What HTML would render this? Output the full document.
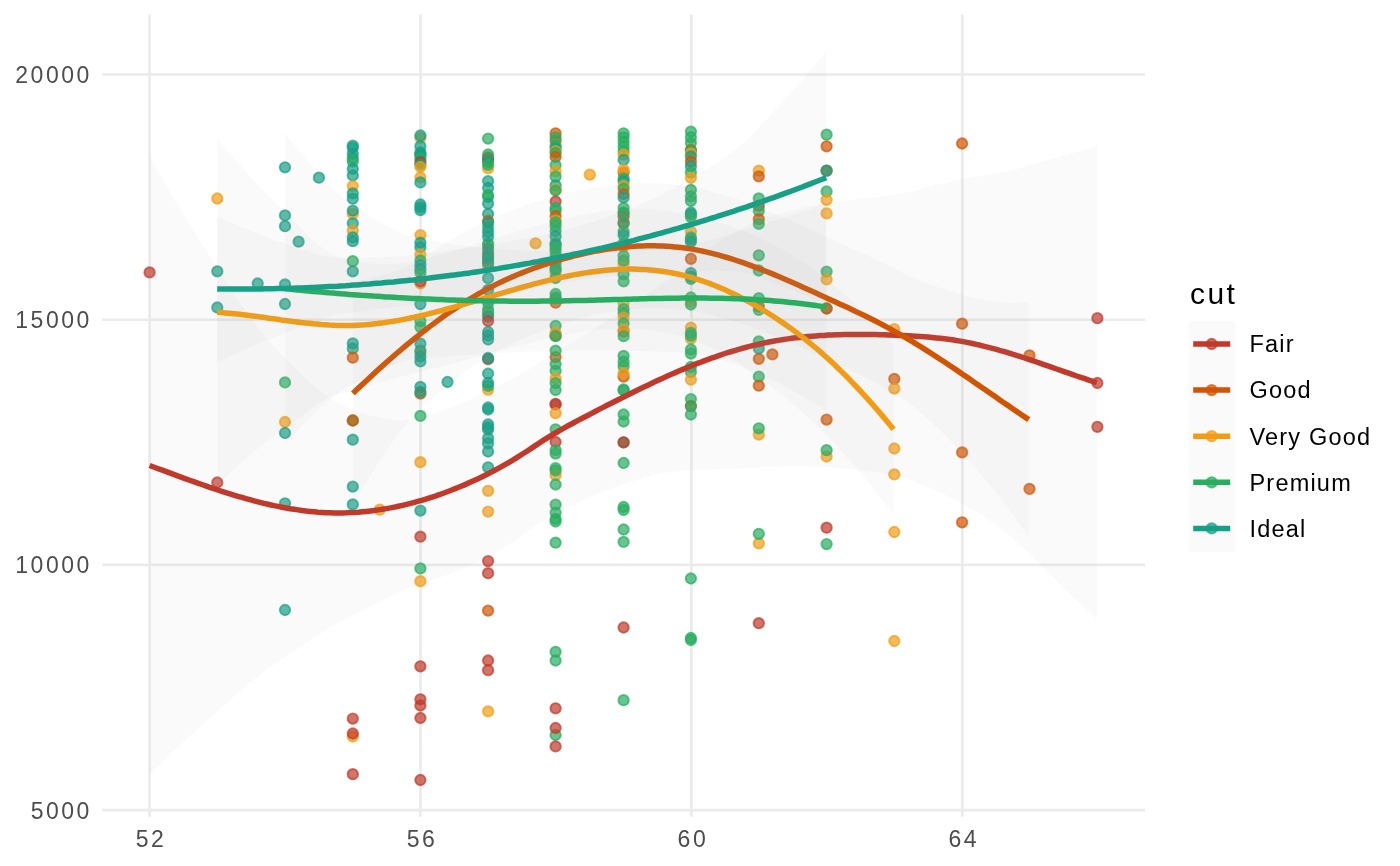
<!DOCTYPE html><html><head><meta charset="utf-8"><style>html,body{margin:0;padding:0;background:#fff;width:1400px;height:866px;overflow:hidden;position:relative}</style></head><body><svg width="1400" height="866" viewBox="0 0 1400 866" style="position:absolute;left:0;top:0"><rect width="1400" height="866" fill="#ffffff"/><g stroke="#EBEBEB" stroke-width="2.7" fill="none"><line x1="102.2" x2="1145.1" y1="810.20" y2="810.20"/><line x1="102.2" x2="1145.1" y1="564.97" y2="564.97"/><line x1="102.2" x2="1145.1" y1="319.73" y2="319.73"/><line x1="102.2" x2="1145.1" y1="74.50" y2="74.50"/><line x1="149.60" x2="149.60" y1="14.5" y2="816.8"/><line x1="420.50" x2="420.50" y1="14.5" y2="816.8"/><line x1="691.40" x2="691.40" y1="14.5" y2="816.8"/><line x1="962.30" x2="962.30" y1="14.5" y2="816.8"/></g><g fill-opacity="0.7" stroke-opacity="0.7" stroke-width="1.9"><circle cx="149.6" cy="272.4" r="5.2" fill="#C0392B" stroke="#C0392B"/><circle cx="217.3" cy="198.5" r="5.2" fill="#F39C12" stroke="#F39C12"/><circle cx="217.3" cy="271.3" r="5.2" fill="#16A085" stroke="#16A085"/><circle cx="217.3" cy="307.5" r="5.2" fill="#16A085" stroke="#16A085"/><circle cx="217.3" cy="482.5" r="5.2" fill="#C0392B" stroke="#C0392B"/><circle cx="257.7" cy="283.5" r="5.2" fill="#16A085" stroke="#16A085"/><circle cx="285.0" cy="167.3" r="5.2" fill="#16A085" stroke="#16A085"/><circle cx="285.0" cy="215.4" r="5.2" fill="#16A085" stroke="#16A085"/><circle cx="285.0" cy="226.2" r="5.2" fill="#16A085" stroke="#16A085"/><circle cx="285.0" cy="284.4" r="5.2" fill="#16A085" stroke="#16A085"/><circle cx="285.0" cy="304.0" r="5.2" fill="#16A085" stroke="#16A085"/><circle cx="285.0" cy="382.4" r="5.2" fill="#27AE60" stroke="#27AE60"/><circle cx="285.0" cy="422.0" r="5.2" fill="#F39C12" stroke="#F39C12"/><circle cx="285.0" cy="433.0" r="5.2" fill="#16A085" stroke="#16A085"/><circle cx="285.0" cy="503.3" r="5.2" fill="#16A085" stroke="#16A085"/><circle cx="285.0" cy="610.0" r="5.2" fill="#16A085" stroke="#16A085"/><circle cx="298.6" cy="241.7" r="5.2" fill="#16A085" stroke="#16A085"/><circle cx="318.9" cy="177.7" r="5.2" fill="#16A085" stroke="#16A085"/><circle cx="352.8" cy="145.6" r="5.2" fill="#16A085" stroke="#16A085"/><circle cx="352.8" cy="147.6" r="5.2" fill="#16A085" stroke="#16A085"/><circle cx="352.8" cy="153.6" r="5.2" fill="#16A085" stroke="#16A085"/><circle cx="352.8" cy="158.2" r="5.2" fill="#16A085" stroke="#16A085"/><circle cx="352.8" cy="161.6" r="5.2" fill="#27AE60" stroke="#27AE60"/><circle cx="352.8" cy="168.9" r="5.2" fill="#16A085" stroke="#16A085"/><circle cx="352.8" cy="175.5" r="5.2" fill="#16A085" stroke="#16A085"/><circle cx="352.8" cy="186.1" r="5.2" fill="#F39C12" stroke="#F39C12"/><circle cx="352.8" cy="193.4" r="5.2" fill="#16A085" stroke="#16A085"/><circle cx="352.8" cy="198.7" r="5.2" fill="#16A085" stroke="#16A085"/><circle cx="352.8" cy="214.0" r="5.2" fill="#F39C12" stroke="#F39C12"/><circle cx="352.8" cy="210.7" r="5.2" fill="#16A085" stroke="#16A085"/><circle cx="352.8" cy="223.3" r="5.2" fill="#16A085" stroke="#16A085"/><circle cx="352.8" cy="230.6" r="5.2" fill="#F39C12" stroke="#F39C12"/><circle cx="352.8" cy="237.3" r="5.2" fill="#16A085" stroke="#16A085"/><circle cx="352.8" cy="241.2" r="5.2" fill="#16A085" stroke="#16A085"/><circle cx="352.8" cy="261.2" r="5.2" fill="#27AE60" stroke="#27AE60"/><circle cx="352.8" cy="271.3" r="5.2" fill="#16A085" stroke="#16A085"/><circle cx="352.8" cy="343.4" r="5.2" fill="#16A085" stroke="#16A085"/><circle cx="352.8" cy="348.5" r="5.2" fill="#16A085" stroke="#16A085"/><circle cx="352.8" cy="357.7" r="5.2" fill="#D35400" stroke="#D35400"/><circle cx="352.8" cy="420.5" r="5.2" fill="#27AE60" stroke="#27AE60"/><circle cx="352.8" cy="420.5" r="5.2" fill="#D35400" stroke="#D35400"/><circle cx="352.8" cy="439.7" r="5.2" fill="#16A085" stroke="#16A085"/><circle cx="352.8" cy="486.6" r="5.2" fill="#16A085" stroke="#16A085"/><circle cx="352.8" cy="504.4" r="5.2" fill="#16A085" stroke="#16A085"/><circle cx="379.7" cy="509.7" r="5.2" fill="#F39C12" stroke="#F39C12"/><circle cx="352.8" cy="718.6" r="5.2" fill="#C0392B" stroke="#C0392B"/><circle cx="352.8" cy="736.5" r="5.2" fill="#F39C12" stroke="#F39C12"/><circle cx="352.8" cy="733.5" r="5.2" fill="#C0392B" stroke="#C0392B"/><circle cx="352.8" cy="774.2" r="5.2" fill="#C0392B" stroke="#C0392B"/><circle cx="420.4" cy="137.9" r="5.2" fill="#F39C12" stroke="#F39C12"/><circle cx="420.4" cy="135.5" r="5.2" fill="#16A085" stroke="#16A085"/><circle cx="420.4" cy="146.2" r="5.2" fill="#16A085" stroke="#16A085"/><circle cx="420.4" cy="152.5" r="5.2" fill="#16A085" stroke="#16A085"/><circle cx="420.4" cy="154.1" r="5.2" fill="#16A085" stroke="#16A085"/><circle cx="420.4" cy="155.7" r="5.2" fill="#16A085" stroke="#16A085"/><circle cx="420.4" cy="158.9" r="5.2" fill="#27AE60" stroke="#27AE60"/><circle cx="420.4" cy="162.2" r="5.2" fill="#C0392B" stroke="#C0392B"/><circle cx="420.4" cy="164.6" r="5.2" fill="#16A085" stroke="#16A085"/><circle cx="420.4" cy="167.0" r="5.2" fill="#F39C12" stroke="#F39C12"/><circle cx="420.4" cy="177.5" r="5.2" fill="#F39C12" stroke="#F39C12"/><circle cx="420.4" cy="182.4" r="5.2" fill="#16A085" stroke="#16A085"/><circle cx="420.4" cy="204.5" r="5.2" fill="#16A085" stroke="#16A085"/><circle cx="420.4" cy="207.3" r="5.2" fill="#16A085" stroke="#16A085"/><circle cx="420.4" cy="210.2" r="5.2" fill="#16A085" stroke="#16A085"/><circle cx="420.4" cy="235.1" r="5.2" fill="#F39C12" stroke="#F39C12"/><circle cx="420.4" cy="242.6" r="5.2" fill="#16A085" stroke="#16A085"/><circle cx="420.4" cy="247.2" r="5.2" fill="#16A085" stroke="#16A085"/><circle cx="420.4" cy="254.7" r="5.2" fill="#F39C12" stroke="#F39C12"/><circle cx="420.4" cy="260.5" r="5.2" fill="#27AE60" stroke="#27AE60"/><circle cx="420.4" cy="265.1" r="5.2" fill="#16A085" stroke="#16A085"/><circle cx="420.4" cy="269.2" r="5.2" fill="#16A085" stroke="#16A085"/><circle cx="420.4" cy="272.7" r="5.2" fill="#27AE60" stroke="#27AE60"/><circle cx="420.4" cy="283.5" r="5.2" fill="#F39C12" stroke="#F39C12"/><circle cx="420.4" cy="281.5" r="5.2" fill="#C0392B" stroke="#C0392B"/><circle cx="420.4" cy="304.1" r="5.2" fill="#16A085" stroke="#16A085"/><circle cx="420.4" cy="321.2" r="5.2" fill="#27AE60" stroke="#27AE60"/><circle cx="420.4" cy="327.1" r="5.2" fill="#27AE60" stroke="#27AE60"/><circle cx="420.4" cy="343.7" r="5.2" fill="#16A085" stroke="#16A085"/><circle cx="420.4" cy="352.5" r="5.2" fill="#F39C12" stroke="#F39C12"/><circle cx="420.4" cy="350.6" r="5.2" fill="#16A085" stroke="#16A085"/><circle cx="420.4" cy="356.5" r="5.2" fill="#16A085" stroke="#16A085"/><circle cx="420.4" cy="361.4" r="5.2" fill="#16A085" stroke="#16A085"/><circle cx="420.4" cy="386.9" r="5.2" fill="#16A085" stroke="#16A085"/><circle cx="420.4" cy="393.7" r="5.2" fill="#D35400" stroke="#D35400"/><circle cx="420.4" cy="391.8" r="5.2" fill="#16A085" stroke="#16A085"/><circle cx="420.4" cy="415.9" r="5.2" fill="#27AE60" stroke="#27AE60"/><circle cx="447.5" cy="382.0" r="5.2" fill="#16A085" stroke="#16A085"/><circle cx="420.4" cy="462.2" r="5.2" fill="#F39C12" stroke="#F39C12"/><circle cx="420.4" cy="510.6" r="5.2" fill="#16A085" stroke="#16A085"/><circle cx="420.4" cy="536.7" r="5.2" fill="#C0392B" stroke="#C0392B"/><circle cx="420.4" cy="568.4" r="5.2" fill="#27AE60" stroke="#27AE60"/><circle cx="420.4" cy="581.2" r="5.2" fill="#F39C12" stroke="#F39C12"/><circle cx="420.4" cy="666.3" r="5.2" fill="#C0392B" stroke="#C0392B"/><circle cx="420.4" cy="699.3" r="5.2" fill="#C0392B" stroke="#C0392B"/><circle cx="420.4" cy="705.5" r="5.2" fill="#C0392B" stroke="#C0392B"/><circle cx="420.4" cy="718.0" r="5.2" fill="#C0392B" stroke="#C0392B"/><circle cx="420.4" cy="780.0" r="5.2" fill="#C0392B" stroke="#C0392B"/><circle cx="488.1" cy="138.6" r="5.2" fill="#27AE60" stroke="#27AE60"/><circle cx="488.1" cy="157.4" r="5.2" fill="#C0392B" stroke="#C0392B"/><circle cx="488.1" cy="159.5" r="5.2" fill="#C0392B" stroke="#C0392B"/><circle cx="488.1" cy="154.5" r="5.2" fill="#27AE60" stroke="#27AE60"/><circle cx="488.1" cy="168.4" r="5.2" fill="#F39C12" stroke="#F39C12"/><circle cx="488.1" cy="162.0" r="5.2" fill="#16A085" stroke="#16A085"/><circle cx="488.1" cy="164.9" r="5.2" fill="#27AE60" stroke="#27AE60"/><circle cx="488.1" cy="181.1" r="5.2" fill="#16A085" stroke="#16A085"/><circle cx="488.1" cy="188.0" r="5.2" fill="#16A085" stroke="#16A085"/><circle cx="488.1" cy="195.0" r="5.2" fill="#27AE60" stroke="#27AE60"/><circle cx="488.1" cy="197.0" r="5.2" fill="#27AE60" stroke="#27AE60"/><circle cx="488.1" cy="203.6" r="5.2" fill="#16A085" stroke="#16A085"/><circle cx="488.1" cy="214.0" r="5.2" fill="#16A085" stroke="#16A085"/><circle cx="488.1" cy="221.0" r="5.2" fill="#D35400" stroke="#D35400"/><circle cx="488.1" cy="245.3" r="5.2" fill="#F39C12" stroke="#F39C12"/><circle cx="488.1" cy="252.8" r="5.2" fill="#D35400" stroke="#D35400"/><circle cx="488.1" cy="260.9" r="5.2" fill="#D35400" stroke="#D35400"/><circle cx="488.1" cy="265.5" r="5.2" fill="#F39C12" stroke="#F39C12"/><circle cx="488.1" cy="227.3" r="5.2" fill="#27AE60" stroke="#27AE60"/><circle cx="488.1" cy="243.5" r="5.2" fill="#27AE60" stroke="#27AE60"/><circle cx="488.1" cy="258.6" r="5.2" fill="#27AE60" stroke="#27AE60"/><circle cx="488.1" cy="222.7" r="5.2" fill="#16A085" stroke="#16A085"/><circle cx="488.1" cy="232.0" r="5.2" fill="#16A085" stroke="#16A085"/><circle cx="488.1" cy="236.6" r="5.2" fill="#16A085" stroke="#16A085"/><circle cx="488.1" cy="248.7" r="5.2" fill="#16A085" stroke="#16A085"/><circle cx="488.1" cy="256.2" r="5.2" fill="#16A085" stroke="#16A085"/><circle cx="488.1" cy="263.2" r="5.2" fill="#16A085" stroke="#16A085"/><circle cx="488.1" cy="278.2" r="5.2" fill="#16A085" stroke="#16A085"/><circle cx="488.1" cy="289.8" r="5.2" fill="#16A085" stroke="#16A085"/><circle cx="488.1" cy="303.1" r="5.2" fill="#16A085" stroke="#16A085"/><circle cx="488.1" cy="309.4" r="5.2" fill="#27AE60" stroke="#27AE60"/><circle cx="488.1" cy="315.2" r="5.2" fill="#F39C12" stroke="#F39C12"/><circle cx="488.1" cy="312.3" r="5.2" fill="#27AE60" stroke="#27AE60"/><circle cx="488.1" cy="316.4" r="5.2" fill="#16A085" stroke="#16A085"/><circle cx="488.1" cy="321.0" r="5.2" fill="#C0392B" stroke="#C0392B"/><circle cx="488.1" cy="332.0" r="5.2" fill="#16A085" stroke="#16A085"/><circle cx="488.1" cy="335.5" r="5.2" fill="#16A085" stroke="#16A085"/><circle cx="488.1" cy="339.5" r="5.2" fill="#16A085" stroke="#16A085"/><circle cx="488.1" cy="359.2" r="5.2" fill="#C0392B" stroke="#C0392B"/><circle cx="488.1" cy="358.0" r="5.2" fill="#16A085" stroke="#16A085"/><circle cx="488.1" cy="373.6" r="5.2" fill="#16A085" stroke="#16A085"/><circle cx="488.1" cy="389.7" r="5.2" fill="#F39C12" stroke="#F39C12"/><circle cx="488.1" cy="385.8" r="5.2" fill="#27AE60" stroke="#27AE60"/><circle cx="488.1" cy="382.9" r="5.2" fill="#16A085" stroke="#16A085"/><circle cx="488.1" cy="407.5" r="5.2" fill="#16A085" stroke="#16A085"/><circle cx="488.1" cy="409.5" r="5.2" fill="#16A085" stroke="#16A085"/><circle cx="488.1" cy="424.3" r="5.2" fill="#16A085" stroke="#16A085"/><circle cx="488.1" cy="427.2" r="5.2" fill="#16A085" stroke="#16A085"/><circle cx="488.1" cy="429.5" r="5.2" fill="#16A085" stroke="#16A085"/><circle cx="488.1" cy="438.2" r="5.2" fill="#16A085" stroke="#16A085"/><circle cx="488.1" cy="443.4" r="5.2" fill="#16A085" stroke="#16A085"/><circle cx="488.1" cy="451.5" r="5.2" fill="#16A085" stroke="#16A085"/><circle cx="488.1" cy="467.3" r="5.2" fill="#16A085" stroke="#16A085"/><circle cx="488.1" cy="490.8" r="5.2" fill="#F39C12" stroke="#F39C12"/><circle cx="488.1" cy="511.6" r="5.2" fill="#F39C12" stroke="#F39C12"/><circle cx="488.1" cy="561.1" r="5.2" fill="#C0392B" stroke="#C0392B"/><circle cx="488.1" cy="573.2" r="5.2" fill="#C0392B" stroke="#C0392B"/><circle cx="488.1" cy="610.6" r="5.2" fill="#D35400" stroke="#D35400"/><circle cx="488.1" cy="660.5" r="5.2" fill="#C0392B" stroke="#C0392B"/><circle cx="488.1" cy="670.2" r="5.2" fill="#C0392B" stroke="#C0392B"/><circle cx="488.1" cy="711.4" r="5.2" fill="#F39C12" stroke="#F39C12"/><circle cx="535.6" cy="243.3" r="5.2" fill="#F39C12" stroke="#F39C12"/><circle cx="589.8" cy="174.7" r="5.2" fill="#F39C12" stroke="#F39C12"/><circle cx="555.6" cy="133.3" r="5.2" fill="#D35400" stroke="#D35400"/><circle cx="555.6" cy="140.8" r="5.2" fill="#D35400" stroke="#D35400"/><circle cx="555.6" cy="137.3" r="5.2" fill="#27AE60" stroke="#27AE60"/><circle cx="555.6" cy="146.0" r="5.2" fill="#27AE60" stroke="#27AE60"/><circle cx="555.6" cy="148.3" r="5.2" fill="#16A085" stroke="#16A085"/><circle cx="555.6" cy="151.2" r="5.2" fill="#F39C12" stroke="#F39C12"/><circle cx="555.6" cy="152.9" r="5.2" fill="#27AE60" stroke="#27AE60"/><circle cx="555.6" cy="157.0" r="5.2" fill="#D35400" stroke="#D35400"/><circle cx="555.6" cy="165.1" r="5.2" fill="#27AE60" stroke="#27AE60"/><circle cx="555.6" cy="171.4" r="5.2" fill="#F39C12" stroke="#F39C12"/><circle cx="555.6" cy="176.6" r="5.2" fill="#27AE60" stroke="#27AE60"/><circle cx="555.6" cy="185.3" r="5.2" fill="#16A085" stroke="#16A085"/><circle cx="555.6" cy="189.4" r="5.2" fill="#F39C12" stroke="#F39C12"/><circle cx="555.6" cy="190.5" r="5.2" fill="#27AE60" stroke="#27AE60"/><circle cx="555.6" cy="201.5" r="5.2" fill="#C0392B" stroke="#C0392B"/><circle cx="555.6" cy="207.9" r="5.2" fill="#27AE60" stroke="#27AE60"/><circle cx="555.6" cy="210.8" r="5.2" fill="#27AE60" stroke="#27AE60"/><circle cx="555.6" cy="216.0" r="5.2" fill="#D35400" stroke="#D35400"/><circle cx="555.6" cy="220.6" r="5.2" fill="#F39C12" stroke="#F39C12"/><circle cx="555.6" cy="222.3" r="5.2" fill="#27AE60" stroke="#27AE60"/><circle cx="555.6" cy="226.0" r="5.2" fill="#27AE60" stroke="#27AE60"/><circle cx="555.6" cy="231.0" r="5.2" fill="#27AE60" stroke="#27AE60"/><circle cx="555.6" cy="236.2" r="5.2" fill="#16A085" stroke="#16A085"/><circle cx="555.6" cy="243.2" r="5.2" fill="#27AE60" stroke="#27AE60"/><circle cx="555.6" cy="244.9" r="5.2" fill="#16A085" stroke="#16A085"/><circle cx="555.6" cy="248.0" r="5.2" fill="#27AE60" stroke="#27AE60"/><circle cx="555.6" cy="251.2" r="5.2" fill="#27AE60" stroke="#27AE60"/><circle cx="555.6" cy="256.0" r="5.2" fill="#27AE60" stroke="#27AE60"/><circle cx="555.6" cy="264.0" r="5.2" fill="#27AE60" stroke="#27AE60"/><circle cx="555.6" cy="260.5" r="5.2" fill="#27AE60" stroke="#27AE60"/><circle cx="555.6" cy="273.2" r="5.2" fill="#F39C12" stroke="#F39C12"/><circle cx="555.6" cy="269.7" r="5.2" fill="#16A085" stroke="#16A085"/><circle cx="555.6" cy="268.6" r="5.2" fill="#27AE60" stroke="#27AE60"/><circle cx="555.6" cy="278.0" r="5.2" fill="#27AE60" stroke="#27AE60"/><circle cx="555.6" cy="294.0" r="5.2" fill="#27AE60" stroke="#27AE60"/><circle cx="555.6" cy="297.5" r="5.2" fill="#27AE60" stroke="#27AE60"/><circle cx="555.6" cy="302.7" r="5.2" fill="#D35400" stroke="#D35400"/><circle cx="555.6" cy="298.7" r="5.2" fill="#27AE60" stroke="#27AE60"/><circle cx="555.6" cy="325.8" r="5.2" fill="#27AE60" stroke="#27AE60"/><circle cx="555.6" cy="335.7" r="5.2" fill="#D35400" stroke="#D35400"/><circle cx="555.6" cy="332.8" r="5.2" fill="#F39C12" stroke="#F39C12"/><circle cx="555.6" cy="336.2" r="5.2" fill="#27AE60" stroke="#27AE60"/><circle cx="555.6" cy="357.1" r="5.2" fill="#D35400" stroke="#D35400"/><circle cx="555.6" cy="350.7" r="5.2" fill="#27AE60" stroke="#27AE60"/><circle cx="555.6" cy="364.0" r="5.2" fill="#27AE60" stroke="#27AE60"/><circle cx="555.6" cy="370.9" r="5.2" fill="#27AE60" stroke="#27AE60"/><circle cx="555.6" cy="378.4" r="5.2" fill="#F39C12" stroke="#F39C12"/><circle cx="555.6" cy="383.1" r="5.2" fill="#27AE60" stroke="#27AE60"/><circle cx="555.6" cy="390.0" r="5.2" fill="#27AE60" stroke="#27AE60"/><circle cx="555.6" cy="403.9" r="5.2" fill="#C0392B" stroke="#C0392B"/><circle cx="555.6" cy="404.5" r="5.2" fill="#C0392B" stroke="#C0392B"/><circle cx="555.6" cy="413.2" r="5.2" fill="#F39C12" stroke="#F39C12"/><circle cx="555.6" cy="429.3" r="5.2" fill="#27AE60" stroke="#27AE60"/><circle cx="555.6" cy="442.0" r="5.2" fill="#C0392B" stroke="#C0392B"/><circle cx="555.6" cy="450.1" r="5.2" fill="#27AE60" stroke="#27AE60"/><circle cx="555.6" cy="453.6" r="5.2" fill="#27AE60" stroke="#27AE60"/><circle cx="555.6" cy="468.1" r="5.2" fill="#27AE60" stroke="#27AE60"/><circle cx="555.6" cy="475.2" r="5.2" fill="#F39C12" stroke="#F39C12"/><circle cx="555.6" cy="470.5" r="5.2" fill="#27AE60" stroke="#27AE60"/><circle cx="555.6" cy="484.5" r="5.2" fill="#27AE60" stroke="#27AE60"/><circle cx="555.6" cy="504.6" r="5.2" fill="#27AE60" stroke="#27AE60"/><circle cx="555.6" cy="512.6" r="5.2" fill="#27AE60" stroke="#27AE60"/><circle cx="555.6" cy="519.0" r="5.2" fill="#27AE60" stroke="#27AE60"/><circle cx="555.6" cy="521.5" r="5.2" fill="#27AE60" stroke="#27AE60"/><circle cx="555.6" cy="542.7" r="5.2" fill="#27AE60" stroke="#27AE60"/><circle cx="555.6" cy="651.8" r="5.2" fill="#27AE60" stroke="#27AE60"/><circle cx="555.6" cy="660.5" r="5.2" fill="#27AE60" stroke="#27AE60"/><circle cx="555.6" cy="708.3" r="5.2" fill="#C0392B" stroke="#C0392B"/><circle cx="555.6" cy="735.0" r="5.2" fill="#27AE60" stroke="#27AE60"/><circle cx="555.6" cy="728.0" r="5.2" fill="#C0392B" stroke="#C0392B"/><circle cx="555.6" cy="746.4" r="5.2" fill="#C0392B" stroke="#C0392B"/><circle cx="623.6" cy="133.3" r="5.2" fill="#27AE60" stroke="#27AE60"/><circle cx="623.6" cy="137.3" r="5.2" fill="#27AE60" stroke="#27AE60"/><circle cx="623.6" cy="142.0" r="5.2" fill="#27AE60" stroke="#27AE60"/><circle cx="623.6" cy="146.6" r="5.2" fill="#27AE60" stroke="#27AE60"/><circle cx="623.6" cy="151.2" r="5.2" fill="#27AE60" stroke="#27AE60"/><circle cx="623.6" cy="154.7" r="5.2" fill="#F39C12" stroke="#F39C12"/><circle cx="623.6" cy="159.9" r="5.2" fill="#16A085" stroke="#16A085"/><circle cx="623.6" cy="172.6" r="5.2" fill="#D35400" stroke="#D35400"/><circle cx="623.6" cy="169.7" r="5.2" fill="#F39C12" stroke="#F39C12"/><circle cx="623.6" cy="178.4" r="5.2" fill="#27AE60" stroke="#27AE60"/><circle cx="623.6" cy="181.3" r="5.2" fill="#16A085" stroke="#16A085"/><circle cx="623.6" cy="185.9" r="5.2" fill="#F39C12" stroke="#F39C12"/><circle cx="623.6" cy="188.8" r="5.2" fill="#27AE60" stroke="#27AE60"/><circle cx="623.6" cy="194.0" r="5.2" fill="#D35400" stroke="#D35400"/><circle cx="623.6" cy="197.5" r="5.2" fill="#16A085" stroke="#16A085"/><circle cx="623.6" cy="207.9" r="5.2" fill="#27AE60" stroke="#27AE60"/><circle cx="623.6" cy="212.5" r="5.2" fill="#27AE60" stroke="#27AE60"/><circle cx="623.6" cy="216.6" r="5.2" fill="#C0392B" stroke="#C0392B"/><circle cx="623.6" cy="213.1" r="5.2" fill="#27AE60" stroke="#27AE60"/><circle cx="623.6" cy="223.5" r="5.2" fill="#C0392B" stroke="#C0392B"/><circle cx="623.6" cy="222.3" r="5.2" fill="#27AE60" stroke="#27AE60"/><circle cx="623.6" cy="231.6" r="5.2" fill="#27AE60" stroke="#27AE60"/><circle cx="623.6" cy="235.1" r="5.2" fill="#16A085" stroke="#16A085"/><circle cx="623.6" cy="243.2" r="5.2" fill="#27AE60" stroke="#27AE60"/><circle cx="623.6" cy="246.6" r="5.2" fill="#F39C12" stroke="#F39C12"/><circle cx="623.6" cy="255.9" r="5.2" fill="#27AE60" stroke="#27AE60"/><circle cx="623.6" cy="264.0" r="5.2" fill="#F39C12" stroke="#F39C12"/><circle cx="623.6" cy="260.5" r="5.2" fill="#27AE60" stroke="#27AE60"/><circle cx="623.6" cy="274.4" r="5.2" fill="#27AE60" stroke="#27AE60"/><circle cx="623.6" cy="281.3" r="5.2" fill="#27AE60" stroke="#27AE60"/><circle cx="623.6" cy="303.3" r="5.2" fill="#F39C12" stroke="#F39C12"/><circle cx="623.6" cy="309.1" r="5.2" fill="#27AE60" stroke="#27AE60"/><circle cx="623.6" cy="313.1" r="5.2" fill="#27AE60" stroke="#27AE60"/><circle cx="623.6" cy="317.7" r="5.2" fill="#F39C12" stroke="#F39C12"/><circle cx="623.6" cy="323.5" r="5.2" fill="#27AE60" stroke="#27AE60"/><circle cx="623.6" cy="331.6" r="5.2" fill="#D35400" stroke="#D35400"/><circle cx="623.6" cy="329.9" r="5.2" fill="#F39C12" stroke="#F39C12"/><circle cx="623.6" cy="336.2" r="5.2" fill="#27AE60" stroke="#27AE60"/><circle cx="623.6" cy="355.9" r="5.2" fill="#27AE60" stroke="#27AE60"/><circle cx="623.6" cy="361.7" r="5.2" fill="#27AE60" stroke="#27AE60"/><circle cx="623.6" cy="366.3" r="5.2" fill="#27AE60" stroke="#27AE60"/><circle cx="623.6" cy="376.7" r="5.2" fill="#D35400" stroke="#D35400"/><circle cx="623.6" cy="373.2" r="5.2" fill="#F39C12" stroke="#F39C12"/><circle cx="623.6" cy="389.4" r="5.2" fill="#27AE60" stroke="#27AE60"/><circle cx="623.6" cy="390.4" r="5.2" fill="#27AE60" stroke="#27AE60"/><circle cx="623.6" cy="414.5" r="5.2" fill="#27AE60" stroke="#27AE60"/><circle cx="623.6" cy="421.5" r="5.2" fill="#27AE60" stroke="#27AE60"/><circle cx="623.6" cy="442.3" r="5.2" fill="#27AE60" stroke="#27AE60"/><circle cx="623.6" cy="442.3" r="5.2" fill="#C0392B" stroke="#C0392B"/><circle cx="623.6" cy="463.0" r="5.2" fill="#27AE60" stroke="#27AE60"/><circle cx="623.6" cy="507.0" r="5.2" fill="#27AE60" stroke="#27AE60"/><circle cx="623.6" cy="510.0" r="5.2" fill="#27AE60" stroke="#27AE60"/><circle cx="623.6" cy="529.5" r="5.2" fill="#27AE60" stroke="#27AE60"/><circle cx="623.6" cy="541.9" r="5.2" fill="#27AE60" stroke="#27AE60"/><circle cx="623.6" cy="627.5" r="5.2" fill="#C0392B" stroke="#C0392B"/><circle cx="623.6" cy="700.2" r="5.2" fill="#27AE60" stroke="#27AE60"/><circle cx="690.9" cy="131.6" r="5.2" fill="#27AE60" stroke="#27AE60"/><circle cx="690.9" cy="137.3" r="5.2" fill="#27AE60" stroke="#27AE60"/><circle cx="690.9" cy="143.1" r="5.2" fill="#27AE60" stroke="#27AE60"/><circle cx="690.9" cy="150.0" r="5.2" fill="#D35400" stroke="#D35400"/><circle cx="690.9" cy="150.6" r="5.2" fill="#27AE60" stroke="#27AE60"/><circle cx="690.9" cy="153.5" r="5.2" fill="#F39C12" stroke="#F39C12"/><circle cx="690.9" cy="156.4" r="5.2" fill="#16A085" stroke="#16A085"/><circle cx="690.9" cy="161.6" r="5.2" fill="#D35400" stroke="#D35400"/><circle cx="690.9" cy="166.2" r="5.2" fill="#16A085" stroke="#16A085"/><circle cx="690.9" cy="172.6" r="5.2" fill="#27AE60" stroke="#27AE60"/><circle cx="690.9" cy="177.8" r="5.2" fill="#F39C12" stroke="#F39C12"/><circle cx="690.9" cy="189.9" r="5.2" fill="#27AE60" stroke="#27AE60"/><circle cx="690.9" cy="196.3" r="5.2" fill="#27AE60" stroke="#27AE60"/><circle cx="690.9" cy="200.9" r="5.2" fill="#27AE60" stroke="#27AE60"/><circle cx="690.9" cy="212.5" r="5.2" fill="#16A085" stroke="#16A085"/><circle cx="690.9" cy="214.5" r="5.2" fill="#16A085" stroke="#16A085"/><circle cx="690.9" cy="217.1" r="5.2" fill="#27AE60" stroke="#27AE60"/><circle cx="690.9" cy="231.6" r="5.2" fill="#F39C12" stroke="#F39C12"/><circle cx="690.9" cy="237.4" r="5.2" fill="#27AE60" stroke="#27AE60"/><circle cx="690.9" cy="239.7" r="5.2" fill="#27AE60" stroke="#27AE60"/><circle cx="690.9" cy="242.0" r="5.2" fill="#16A085" stroke="#16A085"/><circle cx="690.9" cy="258.8" r="5.2" fill="#D35400" stroke="#D35400"/><circle cx="690.9" cy="273.2" r="5.2" fill="#16A085" stroke="#16A085"/><circle cx="690.9" cy="276.7" r="5.2" fill="#16A085" stroke="#16A085"/><circle cx="690.9" cy="279.0" r="5.2" fill="#27AE60" stroke="#27AE60"/><circle cx="690.9" cy="297.5" r="5.2" fill="#27AE60" stroke="#27AE60"/><circle cx="690.9" cy="301.6" r="5.2" fill="#F39C12" stroke="#F39C12"/><circle cx="690.9" cy="304.5" r="5.2" fill="#27AE60" stroke="#27AE60"/><circle cx="690.9" cy="327.6" r="5.2" fill="#F39C12" stroke="#F39C12"/><circle cx="690.9" cy="338.6" r="5.2" fill="#F39C12" stroke="#F39C12"/><circle cx="690.9" cy="332.8" r="5.2" fill="#27AE60" stroke="#27AE60"/><circle cx="690.9" cy="335.7" r="5.2" fill="#27AE60" stroke="#27AE60"/><circle cx="690.9" cy="349.5" r="5.2" fill="#27AE60" stroke="#27AE60"/><circle cx="690.9" cy="353.6" r="5.2" fill="#27AE60" stroke="#27AE60"/><circle cx="690.9" cy="366.9" r="5.2" fill="#27AE60" stroke="#27AE60"/><circle cx="690.9" cy="372.1" r="5.2" fill="#27AE60" stroke="#27AE60"/><circle cx="690.9" cy="379.6" r="5.2" fill="#F39C12" stroke="#F39C12"/><circle cx="690.9" cy="399.1" r="5.2" fill="#27AE60" stroke="#27AE60"/><circle cx="690.9" cy="406.1" r="5.2" fill="#D35400" stroke="#D35400"/><circle cx="690.9" cy="406.1" r="5.2" fill="#27AE60" stroke="#27AE60"/><circle cx="690.9" cy="414.5" r="5.2" fill="#27AE60" stroke="#27AE60"/><circle cx="690.9" cy="578.5" r="5.2" fill="#27AE60" stroke="#27AE60"/><circle cx="690.9" cy="638.0" r="5.2" fill="#27AE60" stroke="#27AE60"/><circle cx="690.9" cy="640.0" r="5.2" fill="#27AE60" stroke="#27AE60"/><circle cx="758.8" cy="170.7" r="5.2" fill="#F39C12" stroke="#F39C12"/><circle cx="758.8" cy="176.3" r="5.2" fill="#D35400" stroke="#D35400"/><circle cx="758.8" cy="198.4" r="5.2" fill="#27AE60" stroke="#27AE60"/><circle cx="758.8" cy="205.9" r="5.2" fill="#C0392B" stroke="#C0392B"/><circle cx="758.8" cy="210.9" r="5.2" fill="#27AE60" stroke="#27AE60"/><circle cx="758.8" cy="219.2" r="5.2" fill="#D35400" stroke="#D35400"/><circle cx="758.8" cy="223.9" r="5.2" fill="#27AE60" stroke="#27AE60"/><circle cx="758.8" cy="255.3" r="5.2" fill="#27AE60" stroke="#27AE60"/><circle cx="758.8" cy="270.5" r="5.2" fill="#27AE60" stroke="#27AE60"/><circle cx="758.8" cy="306.3" r="5.2" fill="#D35400" stroke="#D35400"/><circle cx="758.8" cy="298.2" r="5.2" fill="#27AE60" stroke="#27AE60"/><circle cx="758.8" cy="309.9" r="5.2" fill="#27AE60" stroke="#27AE60"/><circle cx="758.8" cy="341.4" r="5.2" fill="#27AE60" stroke="#27AE60"/><circle cx="758.8" cy="348.5" r="5.2" fill="#16A085" stroke="#16A085"/><circle cx="758.8" cy="358.8" r="5.2" fill="#D35400" stroke="#D35400"/><circle cx="772.4" cy="354.4" r="5.2" fill="#D35400" stroke="#D35400"/><circle cx="758.8" cy="376.6" r="5.2" fill="#27AE60" stroke="#27AE60"/><circle cx="758.8" cy="385.7" r="5.2" fill="#D35400" stroke="#D35400"/><circle cx="758.8" cy="434.6" r="5.2" fill="#F39C12" stroke="#F39C12"/><circle cx="758.8" cy="428.3" r="5.2" fill="#27AE60" stroke="#27AE60"/><circle cx="758.8" cy="543.3" r="5.2" fill="#F39C12" stroke="#F39C12"/><circle cx="758.8" cy="533.8" r="5.2" fill="#27AE60" stroke="#27AE60"/><circle cx="758.8" cy="623.2" r="5.2" fill="#C0392B" stroke="#C0392B"/><circle cx="826.6" cy="134.7" r="5.2" fill="#27AE60" stroke="#27AE60"/><circle cx="826.6" cy="146.3" r="5.2" fill="#D35400" stroke="#D35400"/><circle cx="826.6" cy="170.7" r="5.2" fill="#D35400" stroke="#D35400"/><circle cx="826.6" cy="170.7" r="5.2" fill="#16A085" stroke="#16A085"/><circle cx="826.6" cy="191.5" r="5.2" fill="#27AE60" stroke="#27AE60"/><circle cx="826.6" cy="199.8" r="5.2" fill="#F39C12" stroke="#F39C12"/><circle cx="826.6" cy="213.4" r="5.2" fill="#F39C12" stroke="#F39C12"/><circle cx="826.6" cy="271.6" r="5.2" fill="#27AE60" stroke="#27AE60"/><circle cx="826.6" cy="279.4" r="5.2" fill="#F39C12" stroke="#F39C12"/><circle cx="826.6" cy="308.5" r="5.2" fill="#27AE60" stroke="#27AE60"/><circle cx="826.6" cy="308.5" r="5.2" fill="#D35400" stroke="#D35400"/><circle cx="826.6" cy="419.6" r="5.2" fill="#D35400" stroke="#D35400"/><circle cx="826.6" cy="456.5" r="5.2" fill="#F39C12" stroke="#F39C12"/><circle cx="826.6" cy="450.2" r="5.2" fill="#27AE60" stroke="#27AE60"/><circle cx="826.6" cy="527.7" r="5.2" fill="#C0392B" stroke="#C0392B"/><circle cx="826.6" cy="544.1" r="5.2" fill="#27AE60" stroke="#27AE60"/><circle cx="894.3" cy="329.1" r="5.2" fill="#F39C12" stroke="#F39C12"/><circle cx="894.3" cy="378.9" r="5.2" fill="#D35400" stroke="#D35400"/><circle cx="894.3" cy="388.6" r="5.2" fill="#F39C12" stroke="#F39C12"/><circle cx="894.3" cy="448.5" r="5.2" fill="#F39C12" stroke="#F39C12"/><circle cx="894.3" cy="474.4" r="5.2" fill="#F39C12" stroke="#F39C12"/><circle cx="894.3" cy="532.0" r="5.2" fill="#F39C12" stroke="#F39C12"/><circle cx="894.3" cy="641.0" r="5.2" fill="#F39C12" stroke="#F39C12"/><circle cx="962.1" cy="143.5" r="5.2" fill="#D35400" stroke="#D35400"/><circle cx="962.1" cy="323.7" r="5.2" fill="#D35400" stroke="#D35400"/><circle cx="962.1" cy="452.4" r="5.2" fill="#D35400" stroke="#D35400"/><circle cx="962.1" cy="522.3" r="5.2" fill="#D35400" stroke="#D35400"/><circle cx="1029.5" cy="355.4" r="5.2" fill="#D35400" stroke="#D35400"/><circle cx="1029.5" cy="488.9" r="5.2" fill="#D35400" stroke="#D35400"/><circle cx="1097.4" cy="318.2" r="5.2" fill="#C0392B" stroke="#C0392B"/><circle cx="1097.4" cy="383.0" r="5.2" fill="#C0392B" stroke="#C0392B"/><circle cx="1097.4" cy="426.8" r="5.2" fill="#C0392B" stroke="#C0392B"/></g><path d="M149.6,156.5 L155.6,167.0 L161.7,177.4 L167.7,187.7 L173.7,197.9 L179.8,208.0 L185.8,217.8 L191.8,227.6 L197.9,237.3 L203.9,247.0 L209.9,256.7 L216.0,266.3 L222.0,275.8 L228.0,285.1 L234.1,294.3 L240.1,303.1 L246.1,311.7 L252.2,320.0 L258.2,327.9 L264.2,335.4 L270.3,342.4 L276.3,349.0 L282.3,355.5 L288.4,361.8 L294.4,367.8 L300.4,373.7 L306.5,379.3 L312.5,384.6 L318.5,389.5 L324.6,394.2 L330.6,398.4 L336.6,402.2 L342.7,405.6 L348.7,408.5 L354.7,411.0 L360.8,412.9 L366.8,414.7 L372.8,416.3 L378.9,417.8 L384.9,418.9 L390.9,419.8 L397.0,420.3 L403.0,420.4 L409.0,420.0 L415.1,419.0 L421.1,417.5 L427.1,415.7 L433.2,413.7 L439.2,411.7 L445.2,409.5 L451.3,407.2 L457.3,404.8 L463.3,402.3 L469.4,399.7 L475.4,396.9 L481.4,394.1 L487.5,391.1 L493.5,388.1 L499.5,385.1 L505.6,382.1 L511.6,379.0 L517.6,375.8 L523.7,372.4 L529.7,368.8 L535.7,365.1 L541.8,361.3 L547.8,357.5 L553.8,353.7 L559.9,350.0 L565.9,346.2 L571.9,342.5 L578.0,338.7 L584.0,335.0 L590.0,331.2 L596.1,327.4 L602.1,323.7 L608.1,319.9 L614.2,316.0 L620.2,312.1 L626.2,308.1 L632.2,304.0 L638.3,300.0 L644.3,295.9 L650.3,291.8 L656.4,287.7 L662.4,283.4 L668.4,279.0 L674.5,274.5 L680.5,270.0 L686.5,265.4 L692.6,260.9 L698.6,256.4 L704.6,252.0 L710.7,247.7 L716.7,243.5 L722.7,239.5 L728.8,235.7 L734.8,232.2 L740.8,228.9 L746.9,225.9 L752.9,223.2 L758.9,220.8 L765.0,218.5 L771.0,216.5 L777.0,214.6 L783.1,212.8 L789.1,211.2 L795.1,209.7 L801.2,208.3 L807.2,207.0 L813.2,205.8 L819.3,204.6 L825.3,203.5 L831.3,202.4 L837.4,201.5 L843.4,200.7 L849.4,200.0 L855.5,199.3 L861.5,198.6 L867.5,198.0 L873.6,197.3 L879.6,196.7 L885.6,195.9 L891.7,195.1 L897.7,194.2 L903.7,193.0 L909.8,191.7 L915.8,190.2 L921.8,188.7 L927.9,187.1 L933.9,185.5 L939.9,183.9 L946.0,182.5 L952.0,181.2 L958.0,180.0 L964.1,178.9 L970.1,177.8 L976.1,176.8 L982.2,175.9 L988.2,174.9 L994.2,173.9 L1000.3,172.8 L1006.3,171.6 L1012.3,170.2 L1018.4,168.6 L1024.4,166.9 L1030.4,165.1 L1036.5,163.2 L1042.5,161.4 L1048.5,159.6 L1054.6,157.9 L1060.6,156.3 L1066.6,154.7 L1072.7,153.0 L1078.7,151.4 L1084.7,149.6 L1090.8,147.9 L1096.8,146.1 L1096.8,619.3 L1090.8,613.6 L1084.7,607.8 L1078.7,601.9 L1072.7,596.1 L1066.6,590.3 L1060.6,584.4 L1054.6,578.6 L1048.5,572.7 L1042.5,566.8 L1036.5,560.8 L1030.4,554.9 L1024.4,549.0 L1018.4,543.4 L1012.3,538.0 L1006.3,532.9 L1000.3,528.2 L994.2,523.8 L988.2,519.5 L982.2,515.5 L976.1,511.8 L970.1,508.2 L964.1,504.8 L958.0,501.5 L952.0,498.5 L946.0,495.5 L939.9,492.6 L933.9,489.8 L927.9,487.1 L921.8,484.6 L915.8,482.2 L909.8,480.0 L903.7,478.1 L897.7,476.4 L891.7,475.0 L885.6,473.8 L879.6,472.8 L873.6,471.8 L867.5,471.0 L861.5,470.3 L855.5,469.6 L849.4,469.0 L843.4,468.5 L837.4,468.0 L831.3,467.5 L825.3,467.1 L819.3,466.7 L813.2,466.4 L807.2,466.2 L801.2,466.1 L795.1,466.1 L789.1,466.2 L783.1,466.3 L777.0,466.5 L771.0,466.8 L765.0,467.1 L758.9,467.5 L752.9,467.9 L746.9,468.3 L740.8,468.6 L734.8,468.8 L728.8,469.0 L722.7,469.1 L716.7,469.2 L710.7,469.3 L704.6,469.4 L698.6,469.6 L692.6,469.9 L686.5,470.3 L680.5,470.8 L674.5,471.4 L668.4,472.2 L662.4,473.3 L656.4,474.5 L650.3,476.0 L644.3,477.7 L638.3,479.4 L632.2,481.3 L626.2,483.2 L620.2,485.3 L614.2,487.5 L608.1,489.7 L602.1,492.1 L596.1,494.6 L590.0,497.1 L584.0,499.6 L578.0,502.2 L571.9,504.9 L565.9,507.7 L559.9,510.7 L553.8,514.0 L547.8,517.5 L541.8,521.4 L535.7,525.6 L529.7,529.9 L523.7,534.3 L517.6,538.5 L511.6,542.7 L505.6,546.6 L499.5,550.4 L493.5,553.9 L487.5,557.1 L481.4,560.1 L475.4,562.9 L469.4,565.7 L463.3,568.3 L457.3,570.8 L451.3,573.2 L445.2,575.5 L439.2,577.7 L433.2,579.7 L427.1,581.7 L421.1,583.5 L415.1,585.4 L409.0,587.6 L403.0,590.1 L397.0,592.9 L390.9,595.8 L384.9,598.8 L378.9,601.9 L372.8,605.0 L366.8,608.1 L360.8,611.0 L354.7,613.9 L348.7,616.9 L342.7,620.2 L336.6,623.6 L330.6,627.2 L324.6,631.0 L318.5,634.8 L312.5,638.8 L306.5,642.8 L300.4,646.9 L294.4,650.9 L288.4,655.0 L282.3,659.1 L276.3,663.1 L270.3,667.1 L264.2,671.3 L258.2,675.9 L252.2,680.6 L246.1,685.6 L240.1,690.7 L234.1,696.0 L228.0,701.4 L222.0,706.8 L216.0,712.4 L209.9,717.9 L203.9,723.5 L197.9,729.0 L191.8,734.5 L185.8,739.8 L179.8,745.3 L173.7,750.9 L167.7,756.7 L161.7,762.5 L155.6,768.5 L149.6,774.5 Z" fill="#999999" fill-opacity="0.05" stroke="none"/><path d="M149.6,465.5 L153.6,467.0 L157.6,468.5 L161.6,469.9 L165.7,471.4 L169.7,472.9 L173.7,474.4 L177.7,475.9 L181.7,477.4 L185.7,478.8 L189.7,480.3 L193.7,481.7 L197.8,483.1 L201.8,484.5 L205.8,485.9 L209.8,487.3 L213.8,488.6 L217.8,490.0 L221.8,491.3 L225.9,492.6 L229.9,493.8 L233.9,495.1 L237.9,496.3 L241.9,497.4 L245.9,498.6 L249.9,499.7 L254.0,500.8 L258.0,501.8 L262.0,502.8 L266.0,503.8 L270.0,504.7 L274.0,505.6 L278.0,506.4 L282.0,507.2 L286.1,508.0 L290.1,508.7 L294.1,509.3 L298.1,509.9 L302.1,510.5 L306.1,511.0 L310.1,511.4 L314.2,511.8 L318.2,512.2 L322.2,512.4 L326.2,512.7 L330.2,512.8 L334.2,512.9 L338.2,512.9 L342.3,512.9 L346.3,512.8 L350.3,512.6 L354.3,512.4 L358.3,512.2 L362.3,511.8 L366.3,511.4 L370.3,511.0 L374.4,510.5 L378.4,509.9 L382.4,509.3 L386.4,508.6 L390.4,507.9 L394.4,507.1 L398.4,506.3 L402.5,505.4 L406.5,504.4 L410.5,503.4 L414.5,502.3 L418.5,501.2 L422.5,500.1 L426.5,498.9 L430.5,497.6 L434.6,496.3 L438.6,494.9 L442.6,493.5 L446.6,492.0 L450.6,490.5 L454.6,488.9 L458.6,487.3 L462.7,485.6 L466.7,483.9 L470.7,482.1 L474.7,480.3 L478.7,478.4 L482.7,476.5 L486.7,474.5 L490.8,472.4 L494.8,470.3 L498.8,468.1 L502.8,465.9 L506.8,463.6 L510.8,461.3 L514.8,458.9 L518.8,456.4 L522.9,453.8 L526.9,451.2 L530.9,448.6 L534.9,445.9 L538.9,443.2 L542.9,440.6 L546.9,438.1 L551.0,435.6 L555.0,433.2 L559.0,430.9 L563.0,428.6 L567.0,426.3 L571.0,424.2 L575.0,422.0 L579.1,419.9 L583.1,417.8 L587.1,415.7 L591.1,413.6 L595.1,411.5 L599.1,409.4 L603.1,407.4 L607.1,405.3 L611.2,403.3 L615.2,401.2 L619.2,399.2 L623.2,397.2 L627.2,395.2 L631.2,393.2 L635.2,391.2 L639.3,389.2 L643.3,387.3 L647.3,385.4 L651.3,383.5 L655.3,381.6 L659.3,379.7 L663.3,377.9 L667.3,376.1 L671.4,374.3 L675.4,372.6 L679.4,370.8 L683.4,369.1 L687.4,367.5 L691.4,365.8 L695.4,364.2 L699.5,362.7 L703.5,361.1 L707.5,359.6 L711.5,358.2 L715.5,356.8 L719.5,355.4 L723.5,354.0 L727.6,352.7 L731.6,351.5 L735.6,350.3 L739.6,349.1 L743.6,348.0 L747.6,346.9 L751.6,345.9 L755.6,344.9 L759.7,344.0 L763.7,343.1 L767.7,342.3 L771.7,341.5 L775.7,340.8 L779.7,340.1 L783.7,339.5 L787.8,338.9 L791.8,338.3 L795.8,337.8 L799.8,337.4 L803.8,336.9 L807.8,336.5 L811.8,336.2 L815.9,335.9 L819.9,335.6 L823.9,335.4 L827.9,335.1 L831.9,335.0 L835.9,334.8 L839.9,334.7 L843.9,334.6 L848.0,334.5 L852.0,334.5 L856.0,334.4 L860.0,334.4 L864.0,334.5 L868.0,334.5 L872.0,334.6 L876.1,334.6 L880.1,334.7 L884.1,334.8 L888.1,335.0 L892.1,335.1 L896.1,335.2 L900.1,335.4 L904.1,335.6 L908.2,335.8 L912.2,336.0 L916.2,336.2 L920.2,336.5 L924.2,336.8 L928.2,337.1 L932.2,337.5 L936.3,337.9 L940.3,338.3 L944.3,338.8 L948.3,339.3 L952.3,339.8 L956.3,340.5 L960.3,341.1 L964.4,341.9 L968.4,342.6 L972.4,343.5 L976.4,344.4 L980.4,345.3 L984.4,346.3 L988.4,347.3 L992.4,348.3 L996.5,349.4 L1000.5,350.6 L1004.5,351.7 L1008.5,352.9 L1012.5,354.2 L1016.5,355.4 L1020.5,356.7 L1024.6,358.0 L1028.6,359.3 L1032.6,360.7 L1036.6,362.0 L1040.6,363.4 L1044.6,364.8 L1048.6,366.2 L1052.7,367.6 L1056.7,369.0 L1060.7,370.4 L1064.7,371.8 L1068.7,373.2 L1072.7,374.6 L1076.7,376.0 L1080.7,377.3 L1084.8,378.7 L1088.8,380.1 L1092.8,381.4 L1096.8,382.7" fill="none" stroke="#C0392B" stroke-width="5.5" stroke-linejoin="round" stroke-linecap="butt"/><path d="M352.9,282.4 L358.9,280.9 L365.0,279.4 L371.0,278.0 L377.0,276.5 L383.1,274.9 L389.1,273.2 L395.1,271.2 L401.2,268.9 L407.2,266.3 L413.2,263.2 L419.3,259.6 L425.3,255.7 L431.3,251.9 L437.4,248.2 L443.4,244.5 L449.4,240.9 L455.5,237.4 L461.5,234.0 L467.5,230.8 L473.6,227.6 L479.6,224.5 L485.6,221.6 L491.7,218.8 L497.7,216.1 L503.7,213.5 L509.8,211.1 L515.8,208.8 L521.9,206.6 L527.9,204.5 L533.9,202.5 L540.0,200.6 L546.0,198.8 L552.0,197.1 L558.1,195.5 L564.1,193.9 L570.1,192.5 L576.2,191.1 L582.2,189.9 L588.2,188.7 L594.3,187.6 L600.3,186.7 L606.3,185.8 L612.4,185.1 L618.4,184.5 L624.4,184.0 L630.5,183.6 L636.5,183.3 L642.5,183.2 L648.6,183.2 L654.6,183.3 L660.6,183.5 L666.7,183.9 L672.7,184.5 L678.7,185.1 L684.8,186.0 L690.8,186.9 L696.8,188.1 L702.9,189.4 L708.9,190.8 L714.9,192.4 L721.0,194.0 L727.0,195.9 L733.0,197.8 L739.1,199.8 L745.1,202.0 L751.1,204.2 L757.2,206.5 L763.2,208.9 L769.2,211.4 L775.3,213.9 L781.3,216.5 L787.3,219.1 L793.4,221.8 L799.4,224.5 L805.4,227.2 L811.5,230.0 L817.5,232.8 L823.5,235.5 L829.6,238.3 L835.6,241.0 L841.6,243.7 L847.7,246.5 L853.7,249.2 L859.8,251.9 L865.8,254.7 L871.8,257.5 L877.9,260.4 L883.9,263.3 L889.9,266.3 L896.0,269.3 L902.0,272.5 L908.0,275.5 L914.1,278.2 L920.1,280.8 L926.1,283.1 L932.2,285.2 L938.2,287.3 L944.2,289.2 L950.3,291.1 L956.3,293.0 L962.3,294.9 L968.4,296.7 L974.4,298.2 L980.4,299.5 L986.5,300.6 L992.5,301.4 L998.5,302.0 L1004.6,302.5 L1010.6,302.7 L1016.6,302.7 L1022.7,302.5 L1028.7,302.2 L1028.7,537.0 L1022.7,528.6 L1016.6,520.2 L1010.6,511.9 L1004.6,503.9 L998.5,495.9 L992.5,488.2 L986.5,480.7 L980.4,473.4 L974.4,466.4 L968.4,459.6 L962.3,453.1 L956.3,446.9 L950.3,440.6 L944.2,434.5 L938.2,428.5 L932.2,422.7 L926.1,417.2 L920.1,411.9 L914.1,407.0 L908.0,402.6 L902.0,398.5 L896.0,394.8 L889.9,391.2 L883.9,387.7 L877.9,384.3 L871.8,381.0 L865.8,377.9 L859.8,374.8 L853.7,371.8 L847.7,368.8 L841.6,365.9 L835.6,363.1 L829.6,360.3 L823.5,357.5 L817.5,354.8 L811.5,352.0 L805.4,349.3 L799.4,346.6 L793.4,344.0 L787.3,341.4 L781.3,338.8 L775.3,336.3 L769.2,333.8 L763.2,331.5 L757.2,329.2 L751.1,326.9 L745.1,324.8 L739.1,322.8 L733.0,320.9 L727.0,319.1 L721.0,317.4 L714.9,315.8 L708.9,314.4 L702.9,313.1 L696.8,311.9 L690.8,310.9 L684.8,310.1 L678.7,309.4 L672.7,308.9 L666.7,308.5 L660.6,308.3 L654.6,308.3 L648.6,308.4 L642.5,308.6 L636.5,309.0 L630.5,309.5 L624.4,310.1 L618.4,310.9 L612.4,311.8 L606.3,312.8 L600.3,314.0 L594.3,315.2 L588.2,316.6 L582.2,318.1 L576.2,319.8 L570.1,321.5 L564.1,323.3 L558.1,325.2 L552.0,327.3 L546.0,329.4 L540.0,331.7 L533.9,334.0 L527.9,336.5 L521.9,339.1 L515.8,341.9 L509.8,344.8 L503.7,347.9 L497.7,351.2 L491.7,354.6 L485.6,358.2 L479.6,362.0 L473.6,366.0 L467.5,370.1 L461.5,374.5 L455.5,379.0 L449.4,383.7 L443.4,388.6 L437.4,393.6 L431.3,398.9 L425.3,404.3 L419.3,409.8 L413.2,415.9 L407.2,422.8 L401.2,430.2 L395.1,438.3 L389.1,446.8 L383.1,455.8 L377.0,465.1 L371.0,474.7 L365.0,484.4 L358.9,494.3 L352.9,504.3 Z" fill="#999999" fill-opacity="0.05" stroke="none"/><path d="M352.9,393.4 L356.9,389.5 L360.9,385.7 L365.0,381.9 L369.0,378.2 L373.0,374.5 L377.0,370.8 L381.1,367.1 L385.1,363.5 L389.1,360.0 L393.1,356.5 L397.1,353.0 L401.2,349.6 L405.2,346.2 L409.2,342.9 L413.2,339.6 L417.3,336.3 L421.3,333.1 L425.3,330.0 L429.3,326.9 L433.4,323.9 L437.4,320.9 L441.4,318.0 L445.4,315.1 L449.4,312.3 L453.5,309.6 L457.5,306.9 L461.5,304.3 L465.5,301.7 L469.6,299.2 L473.6,296.8 L477.6,294.4 L481.6,292.1 L485.6,289.9 L489.7,287.7 L493.7,285.6 L497.7,283.6 L501.7,281.7 L505.8,279.8 L509.8,278.0 L513.8,276.2 L517.8,274.5 L521.9,272.9 L525.9,271.3 L529.9,269.7 L533.9,268.2 L537.9,266.8 L542.0,265.4 L546.0,264.1 L550.0,262.8 L554.0,261.6 L558.1,260.3 L562.1,259.2 L566.1,258.1 L570.1,257.0 L574.1,255.9 L578.2,255.0 L582.2,254.0 L586.2,253.1 L590.2,252.3 L594.3,251.4 L598.3,250.7 L602.3,250.0 L606.3,249.3 L610.3,248.7 L614.4,248.2 L618.4,247.7 L622.4,247.2 L626.4,246.9 L630.5,246.5 L634.5,246.3 L638.5,246.0 L642.5,245.9 L646.6,245.8 L650.6,245.8 L654.6,245.8 L658.6,245.9 L662.6,246.0 L666.7,246.2 L670.7,246.5 L674.7,246.9 L678.7,247.3 L682.8,247.8 L686.8,248.3 L690.8,248.9 L694.8,249.6 L698.8,250.4 L702.9,251.2 L706.9,252.1 L710.9,253.1 L714.9,254.1 L719.0,255.2 L723.0,256.3 L727.0,257.5 L731.0,258.7 L735.0,260.0 L739.1,261.3 L743.1,262.7 L747.1,264.1 L751.1,265.6 L755.2,267.1 L759.2,268.6 L763.2,270.2 L767.2,271.8 L771.3,273.4 L775.3,275.1 L779.3,276.8 L783.3,278.5 L787.3,280.2 L791.4,282.0 L795.4,283.8 L799.4,285.6 L803.4,287.4 L807.5,289.2 L811.5,291.0 L815.5,292.8 L819.5,294.7 L823.5,296.5 L827.6,298.4 L831.6,300.2 L835.6,302.1 L839.6,303.9 L843.7,305.8 L847.7,307.6 L851.7,309.5 L855.7,311.4 L859.8,313.4 L863.8,315.3 L867.8,317.3 L871.8,319.3 L875.8,321.3 L879.9,323.4 L883.9,325.5 L887.9,327.6 L891.9,329.8 L896.0,332.1 L900.0,334.3 L904.0,336.7 L908.0,339.0 L912.0,341.4 L916.1,343.9 L920.1,346.3 L924.1,348.9 L928.1,351.4 L932.2,354.0 L936.2,356.6 L940.2,359.2 L944.2,361.8 L948.2,364.5 L952.3,367.2 L956.3,369.9 L960.3,372.6 L964.3,375.4 L968.4,378.1 L972.4,380.9 L976.4,383.7 L980.4,386.5 L984.5,389.2 L988.5,392.0 L992.5,394.8 L996.5,397.6 L1000.5,400.4 L1004.6,403.2 L1008.6,405.9 L1012.6,408.7 L1016.6,411.4 L1020.7,414.2 L1024.7,416.9 L1028.7,419.6" fill="none" stroke="#D35400" stroke-width="5.5" stroke-linejoin="round" stroke-linecap="butt"/><path d="M217.2,139.2 L223.2,146.2 L229.3,153.1 L235.3,159.9 L241.4,166.7 L247.4,173.4 L253.4,180.0 L259.5,186.4 L265.5,192.8 L271.6,199.0 L277.6,205.1 L283.6,211.1 L289.7,216.9 L295.7,223.0 L301.8,229.1 L307.8,235.1 L313.8,240.8 L319.9,245.9 L325.9,250.5 L331.9,254.1 L338.0,256.8 L344.0,258.5 L350.1,260.0 L356.1,261.2 L362.1,262.2 L368.2,263.0 L374.2,263.5 L380.3,263.9 L386.3,263.9 L392.3,263.8 L398.4,263.4 L404.4,262.7 L410.5,261.8 L416.5,260.7 L422.5,259.3 L428.6,257.9 L434.6,256.3 L440.7,254.7 L446.7,253.0 L452.7,251.3 L458.8,249.5 L464.8,247.7 L470.9,245.9 L476.9,244.0 L482.9,242.1 L489.0,240.2 L495.0,238.3 L501.0,236.4 L507.1,234.5 L513.1,232.7 L519.2,230.8 L525.2,229.0 L531.2,227.3 L537.3,225.5 L543.3,223.9 L549.4,222.3 L555.4,220.7 L561.4,219.2 L567.5,217.9 L573.5,216.6 L579.6,215.3 L585.6,214.2 L591.6,213.2 L597.7,212.3 L603.7,211.5 L609.8,210.8 L615.8,210.2 L621.8,209.8 L627.9,209.5 L633.9,209.3 L640.0,209.3 L646.0,209.4 L652.0,209.7 L658.1,210.1 L664.1,210.7 L670.1,211.5 L676.2,212.4 L682.2,213.4 L688.3,214.7 L694.3,216.1 L700.3,217.5 L706.4,219.0 L712.4,220.7 L718.5,222.4 L724.5,224.3 L730.5,226.2 L736.6,228.4 L742.6,230.6 L748.7,233.1 L754.7,235.7 L760.7,238.5 L766.8,241.4 L772.8,244.5 L778.9,247.7 L784.9,251.1 L790.9,254.7 L797.0,258.4 L803.0,262.2 L809.1,266.3 L815.1,270.6 L821.1,275.1 L827.2,279.8 L833.2,284.7 L839.2,289.8 L845.3,295.2 L851.3,300.7 L857.4,306.4 L863.4,312.3 L869.4,318.4 L875.5,324.6 L881.5,331.0 L887.6,337.6 L893.6,344.4 L893.6,514.2 L887.6,506.3 L881.5,498.6 L875.5,491.0 L869.4,483.5 L863.4,476.3 L857.4,469.1 L851.3,462.2 L845.3,455.4 L839.2,448.7 L833.2,442.3 L827.2,436.0 L821.1,430.0 L815.1,424.1 L809.1,418.4 L803.0,412.8 L797.0,407.5 L790.9,402.2 L784.9,397.2 L778.9,392.3 L772.8,387.6 L766.8,383.1 L760.7,378.7 L754.7,374.4 L748.7,370.2 L742.6,366.2 L736.6,362.3 L730.5,358.5 L724.5,355.0 L718.5,351.6 L712.4,348.4 L706.4,345.5 L700.3,342.9 L694.3,340.6 L688.3,338.5 L682.2,336.7 L676.2,335.1 L670.1,333.7 L664.1,332.4 L658.1,331.4 L652.0,330.5 L646.0,329.8 L640.0,329.3 L633.9,329.0 L627.9,328.8 L621.8,328.7 L615.8,328.8 L609.8,329.1 L603.7,329.5 L597.7,330.0 L591.6,330.7 L585.6,331.4 L579.6,332.3 L573.5,333.3 L567.5,334.4 L561.4,335.5 L555.4,336.7 L549.4,338.0 L543.3,339.4 L537.3,340.8 L531.2,342.3 L525.2,343.8 L519.2,345.4 L513.1,347.0 L507.1,348.6 L501.0,350.3 L495.0,351.9 L489.0,353.6 L482.9,355.3 L476.9,357.0 L470.9,358.7 L464.8,360.4 L458.8,362.0 L452.7,363.7 L446.7,365.3 L440.7,366.8 L434.6,368.4 L428.6,369.9 L422.5,371.3 L416.5,372.7 L410.5,374.2 L404.4,375.8 L398.4,377.5 L392.3,379.1 L386.3,380.9 L380.3,382.6 L374.2,384.3 L368.2,386.0 L362.1,387.7 L356.1,389.4 L350.1,390.9 L344.0,392.5 L338.0,394.0 L331.9,396.2 L325.9,399.1 L319.9,402.7 L313.8,406.8 L307.8,411.3 L301.8,415.9 L295.7,420.5 L289.7,425.0 L283.6,429.3 L277.6,433.6 L271.6,438.0 L265.5,442.5 L259.5,447.2 L253.4,452.1 L247.4,457.2 L241.4,462.4 L235.3,467.8 L229.3,473.5 L223.2,479.4 L217.2,485.5 Z" fill="#999999" fill-opacity="0.05" stroke="none"/><path d="M217.2,312.3 L221.2,312.6 L225.2,312.9 L229.2,313.3 L233.2,313.7 L237.2,314.1 L241.2,314.5 L245.2,315.0 L249.2,315.5 L253.2,316.0 L257.2,316.5 L261.2,317.1 L265.2,317.6 L269.2,318.2 L273.2,318.7 L277.2,319.3 L281.2,319.9 L285.2,320.4 L289.2,320.9 L293.2,321.5 L297.2,322.0 L301.2,322.5 L305.3,322.9 L309.3,323.3 L313.3,323.8 L317.3,324.1 L321.3,324.5 L325.3,324.7 L329.3,325.0 L333.3,325.2 L337.3,325.4 L341.3,325.5 L345.3,325.5 L349.3,325.5 L353.3,325.4 L357.3,325.2 L361.3,325.0 L365.3,324.8 L369.3,324.4 L373.3,324.0 L377.3,323.6 L381.3,323.1 L385.3,322.5 L389.3,321.9 L393.3,321.3 L397.3,320.6 L401.3,319.9 L405.3,319.1 L409.3,318.3 L413.3,317.4 L417.3,316.5 L421.3,315.6 L425.3,314.7 L429.3,313.7 L433.3,312.7 L437.3,311.6 L441.3,310.6 L445.3,309.5 L449.3,308.4 L453.3,307.3 L457.3,306.2 L461.3,305.0 L465.3,303.9 L469.3,302.7 L473.4,301.5 L477.4,300.4 L481.4,299.2 L485.4,298.0 L489.4,296.8 L493.4,295.6 L497.4,294.4 L501.4,293.3 L505.4,292.1 L509.4,290.9 L513.4,289.8 L517.4,288.6 L521.4,287.5 L525.4,286.4 L529.4,285.3 L533.4,284.2 L537.4,283.2 L541.4,282.1 L545.4,281.1 L549.4,280.1 L553.4,279.2 L557.4,278.3 L561.4,277.4 L565.4,276.5 L569.4,275.7 L573.4,274.9 L577.4,274.2 L581.4,273.5 L585.4,272.9 L589.4,272.3 L593.4,271.7 L597.4,271.2 L601.4,270.7 L605.4,270.3 L609.4,270.0 L613.4,269.7 L617.4,269.5 L621.4,269.3 L625.4,269.2 L629.4,269.1 L633.4,269.1 L637.4,269.2 L641.5,269.4 L645.5,269.6 L649.5,269.9 L653.5,270.3 L657.5,270.7 L661.5,271.2 L665.5,271.8 L669.5,272.4 L673.5,273.2 L677.5,274.0 L681.5,274.9 L685.5,275.9 L689.5,276.9 L693.5,278.1 L697.5,279.3 L701.5,280.6 L705.5,282.0 L709.5,283.4 L713.5,285.0 L717.5,286.6 L721.5,288.3 L725.5,290.1 L729.5,291.9 L733.5,293.8 L737.5,295.8 L741.5,297.8 L745.5,300.0 L749.5,302.1 L753.5,304.4 L757.5,306.7 L761.5,309.1 L765.5,311.5 L769.5,314.0 L773.5,316.5 L777.5,319.2 L781.5,321.9 L785.5,324.6 L789.5,327.4 L793.5,330.4 L797.5,333.3 L801.5,336.4 L805.5,339.5 L809.6,342.8 L813.6,346.1 L817.6,349.4 L821.6,352.9 L825.6,356.5 L829.6,360.1 L833.6,363.8 L837.6,367.7 L841.6,371.6 L845.6,375.5 L849.6,379.6 L853.6,383.8 L857.6,388.0 L861.6,392.3 L865.6,396.7 L869.6,401.1 L873.6,405.6 L877.6,410.2 L881.6,414.9 L885.6,419.6 L889.6,424.4 L893.6,429.3" fill="none" stroke="#F39C12" stroke-width="5.5" stroke-linejoin="round" stroke-linecap="butt"/><path d="M285.1,132.8 L291.1,140.9 L297.1,148.7 L303.1,156.3 L309.2,163.6 L315.2,170.5 L321.2,177.2 L327.2,183.4 L333.2,189.3 L339.2,194.7 L345.2,199.6 L351.2,204.1 L357.3,208.2 L363.3,212.2 L369.3,216.1 L375.3,219.8 L381.3,223.3 L387.3,226.6 L393.3,229.6 L399.4,232.3 L405.4,234.7 L411.4,236.7 L417.4,238.2 L423.4,239.3 L429.4,240.4 L435.4,241.4 L441.4,242.4 L447.5,243.3 L453.5,244.2 L459.5,245.0 L465.5,245.8 L471.5,246.5 L477.5,247.2 L483.5,247.8 L489.6,248.4 L495.6,248.9 L501.6,249.4 L507.6,249.8 L513.6,250.1 L519.6,250.4 L525.6,250.7 L531.6,250.9 L537.7,251.0 L543.7,251.0 L549.7,251.0 L555.7,251.0 L561.7,250.9 L567.7,250.7 L573.7,250.5 L579.8,250.3 L585.8,250.1 L591.8,249.8 L597.8,249.5 L603.8,249.2 L609.8,248.9 L615.8,248.5 L621.8,248.1 L627.9,247.7 L633.9,247.3 L639.9,246.9 L645.9,246.4 L651.9,246.0 L657.9,245.5 L663.9,245.1 L670.0,244.6 L676.0,244.1 L682.0,243.7 L688.0,243.2 L694.0,242.7 L700.0,241.9 L706.0,240.7 L712.0,239.4 L718.1,237.8 L724.1,236.1 L730.1,234.3 L736.1,232.3 L742.1,230.4 L748.1,228.5 L754.1,226.6 L760.2,224.8 L766.2,223.1 L772.2,221.3 L778.2,219.4 L784.2,217.5 L790.2,215.6 L796.2,213.6 L802.2,211.5 L808.3,209.5 L814.3,207.4 L820.3,205.3 L826.3,203.3 L826.3,411.0 L820.3,407.0 L814.3,403.2 L808.3,399.5 L802.2,395.9 L796.2,392.5 L790.2,389.2 L784.2,386.0 L778.2,383.0 L772.2,380.2 L766.2,377.5 L760.2,375.0 L754.1,372.5 L748.1,370.0 L742.1,367.5 L736.1,365.1 L730.1,362.8 L724.1,360.7 L718.1,358.7 L712.0,357.0 L706.0,355.5 L700.0,354.3 L694.0,353.4 L688.0,352.9 L682.0,352.6 L676.0,352.2 L670.0,351.9 L663.9,351.7 L657.9,351.4 L651.9,351.2 L645.9,351.1 L639.9,350.9 L633.9,350.8 L627.9,350.7 L621.8,350.6 L615.8,350.6 L609.8,350.6 L603.8,350.6 L597.8,350.6 L591.8,350.6 L585.8,350.6 L579.8,350.7 L573.7,350.8 L567.7,350.8 L561.7,350.9 L555.7,351.0 L549.7,351.1 L543.7,351.2 L537.7,351.4 L531.6,351.5 L525.6,351.7 L519.6,352.0 L513.6,352.2 L507.6,352.5 L501.6,352.8 L495.6,353.1 L489.6,353.4 L483.5,353.8 L477.5,354.2 L471.5,354.6 L465.5,355.0 L459.5,355.4 L453.5,355.9 L447.5,356.4 L441.4,356.9 L435.4,357.4 L429.4,357.9 L423.4,358.4 L417.4,359.0 L411.4,360.0 L405.4,361.3 L399.4,363.0 L393.3,365.0 L387.3,367.3 L381.3,369.9 L375.3,372.6 L369.3,375.6 L363.3,378.6 L357.3,381.8 L351.2,385.0 L345.2,388.5 L339.2,392.5 L333.2,397.0 L327.2,401.8 L321.2,407.0 L315.2,412.6 L309.2,418.5 L303.1,424.7 L297.1,431.1 L291.1,437.7 L285.1,444.6 Z" fill="#999999" fill-opacity="0.05" stroke="none"/><path d="M285.1,288.7 L289.1,289.1 L293.1,289.5 L297.1,289.9 L301.1,290.3 L305.1,290.7 L309.2,291.0 L313.2,291.4 L317.2,291.7 L321.2,292.1 L325.2,292.4 L329.2,292.8 L333.2,293.1 L337.2,293.4 L341.2,293.8 L345.2,294.1 L349.2,294.4 L353.3,294.7 L357.3,295.0 L361.3,295.3 L365.3,295.5 L369.3,295.8 L373.3,296.1 L377.3,296.3 L381.3,296.6 L385.3,296.9 L389.3,297.1 L393.3,297.3 L397.3,297.6 L401.4,297.8 L405.4,298.0 L409.4,298.2 L413.4,298.4 L417.4,298.6 L421.4,298.8 L425.4,299.0 L429.4,299.1 L433.4,299.3 L437.4,299.5 L441.4,299.6 L445.5,299.8 L449.5,299.9 L453.5,300.0 L457.5,300.2 L461.5,300.3 L465.5,300.4 L469.5,300.5 L473.5,300.6 L477.5,300.7 L481.5,300.8 L485.5,300.9 L489.6,300.9 L493.6,301.0 L497.6,301.0 L501.6,301.1 L505.6,301.1 L509.6,301.2 L513.6,301.2 L517.6,301.2 L521.6,301.2 L525.6,301.2 L529.6,301.2 L533.7,301.2 L537.7,301.2 L541.7,301.1 L545.7,301.1 L549.7,301.1 L553.7,301.0 L557.7,301.0 L561.7,300.9 L565.7,300.8 L569.7,300.7 L573.7,300.6 L577.7,300.6 L581.8,300.5 L585.8,300.4 L589.8,300.3 L593.8,300.2 L597.8,300.0 L601.8,299.9 L605.8,299.8 L609.8,299.7 L613.8,299.6 L617.8,299.5 L621.8,299.4 L625.9,299.3 L629.9,299.2 L633.9,299.0 L637.9,298.9 L641.9,298.8 L645.9,298.7 L649.9,298.6 L653.9,298.6 L657.9,298.5 L661.9,298.4 L665.9,298.3 L670.0,298.3 L674.0,298.2 L678.0,298.2 L682.0,298.1 L686.0,298.1 L690.0,298.1 L694.0,298.1 L698.0,298.1 L702.0,298.1 L706.0,298.1 L710.0,298.2 L714.1,298.2 L718.1,298.3 L722.1,298.3 L726.1,298.4 L730.1,298.5 L734.1,298.7 L738.1,298.8 L742.1,299.0 L746.1,299.1 L750.1,299.3 L754.1,299.5 L758.1,299.8 L762.2,300.0 L766.2,300.3 L770.2,300.6 L774.2,300.9 L778.2,301.2 L782.2,301.6 L786.2,302.0 L790.2,302.4 L794.2,302.8 L798.2,303.2 L802.2,303.7 L806.3,304.2 L810.3,304.7 L814.3,305.3 L818.3,305.9 L822.3,306.5 L826.3,307.1" fill="none" stroke="#27AE60" stroke-width="5.5" stroke-linejoin="round" stroke-linecap="butt"/><path d="M217.2,215.9 L223.2,218.7 L229.3,221.5 L235.3,224.3 L241.3,226.9 L247.4,229.4 L253.4,231.9 L259.4,234.3 L265.4,236.6 L271.5,238.8 L277.5,240.9 L283.5,242.9 L289.6,244.9 L295.6,247.1 L301.6,249.2 L307.7,251.3 L313.7,253.3 L319.7,255.0 L325.8,256.4 L331.8,257.4 L337.8,257.9 L343.8,258.0 L349.9,258.0 L355.9,258.0 L361.9,257.9 L368.0,257.7 L374.0,257.5 L380.0,257.3 L386.1,257.0 L392.1,256.6 L398.1,256.2 L404.2,255.7 L410.2,255.2 L416.2,254.6 L422.2,253.9 L428.3,253.2 L434.3,252.5 L440.3,251.8 L446.4,251.0 L452.4,250.2 L458.4,249.3 L464.5,248.5 L470.5,247.6 L476.5,246.7 L482.6,245.7 L488.6,244.8 L494.6,243.8 L500.6,242.8 L506.7,241.7 L512.7,240.6 L518.7,239.5 L524.8,238.4 L530.8,237.2 L536.8,236.0 L542.9,234.8 L548.9,233.5 L554.9,232.2 L560.9,230.9 L567.0,229.4 L573.0,227.8 L579.0,226.1 L585.1,224.3 L591.1,222.4 L597.1,220.5 L603.2,218.4 L609.2,216.2 L615.2,214.0 L621.3,211.7 L627.3,209.4 L633.3,207.0 L639.3,204.5 L645.4,202.0 L651.4,199.5 L657.4,196.7 L663.5,193.7 L669.5,190.6 L675.5,187.2 L681.6,183.8 L687.6,180.2 L693.6,176.6 L699.7,173.0 L705.7,169.4 L711.7,165.8 L717.7,162.1 L723.8,158.2 L729.8,154.0 L735.8,149.6 L741.9,144.6 L747.9,139.0 L753.9,133.0 L760.0,126.7 L766.0,120.2 L772.0,113.8 L778.1,107.3 L784.1,100.7 L790.1,94.0 L796.1,87.2 L802.2,80.2 L808.2,73.1 L814.2,65.8 L820.3,58.4 L826.3,50.9 L826.3,304.4 L820.3,301.6 L814.2,298.9 L808.2,296.3 L802.2,293.8 L796.1,291.4 L790.1,289.0 L784.1,286.7 L778.1,284.5 L772.0,282.4 L766.0,280.2 L760.0,277.9 L753.9,275.8 L747.9,273.9 L741.9,272.4 L735.8,271.4 L729.8,270.9 L723.8,270.7 L717.7,270.6 L711.7,270.6 L705.7,270.7 L699.7,270.8 L693.6,270.8 L687.6,270.8 L681.6,270.8 L675.5,270.8 L669.5,270.9 L663.5,271.1 L657.4,271.4 L651.4,271.9 L645.4,272.6 L639.3,273.2 L633.3,273.9 L627.3,274.5 L621.3,275.1 L615.2,275.8 L609.2,276.5 L603.2,277.2 L597.1,277.9 L591.1,278.7 L585.1,279.4 L579.0,280.3 L573.0,281.2 L567.0,282.1 L560.9,283.2 L554.9,284.2 L548.9,285.4 L542.9,286.4 L536.8,287.5 L530.8,288.6 L524.8,289.6 L518.7,290.6 L512.7,291.6 L506.7,292.5 L500.6,293.5 L494.6,294.4 L488.6,295.3 L482.6,296.2 L476.5,297.0 L470.5,297.9 L464.5,298.7 L458.4,299.5 L452.4,300.3 L446.4,301.1 L440.3,301.8 L434.3,302.5 L428.3,303.2 L422.2,303.9 L416.2,304.6 L410.2,305.3 L404.2,306.0 L398.1,306.7 L392.1,307.4 L386.1,308.1 L380.0,308.9 L374.0,309.6 L368.0,310.4 L361.9,311.2 L355.9,311.9 L349.9,312.7 L343.8,313.5 L337.8,314.3 L331.8,315.6 L325.8,317.2 L319.7,319.2 L313.7,321.5 L307.7,324.0 L301.6,326.6 L295.6,329.1 L289.6,331.6 L283.5,334.0 L277.5,336.3 L271.5,338.7 L265.4,341.1 L259.4,343.5 L253.4,346.1 L247.4,348.6 L241.3,351.2 L235.3,353.8 L229.3,356.5 L223.2,359.2 L217.2,362.0 Z" fill="#999999" fill-opacity="0.05" stroke="none"/><path d="M217.2,288.9 L221.2,289.0 L225.2,289.0 L229.2,289.0 L233.2,289.0 L237.2,289.0 L241.2,289.0 L245.3,289.0 L249.3,289.0 L253.3,289.0 L257.3,288.9 L261.3,288.9 L265.3,288.8 L269.3,288.8 L273.3,288.7 L277.3,288.6 L281.3,288.5 L285.3,288.4 L289.3,288.3 L293.3,288.2 L297.3,288.0 L301.4,287.9 L305.4,287.7 L309.4,287.6 L313.4,287.4 L317.4,287.2 L321.4,287.0 L325.4,286.8 L329.4,286.6 L333.4,286.4 L337.4,286.2 L341.4,285.9 L345.4,285.7 L349.4,285.4 L353.4,285.1 L357.5,284.9 L361.5,284.6 L365.5,284.3 L369.5,284.0 L373.5,283.6 L377.5,283.3 L381.5,283.0 L385.5,282.6 L389.5,282.2 L393.5,281.9 L397.5,281.5 L401.5,281.1 L405.5,280.7 L409.5,280.3 L413.6,279.9 L417.6,279.4 L421.6,279.0 L425.6,278.5 L429.6,278.1 L433.6,277.6 L437.6,277.1 L441.6,276.6 L445.6,276.1 L449.6,275.6 L453.6,275.1 L457.6,274.5 L461.6,274.0 L465.6,273.4 L469.7,272.9 L473.7,272.3 L477.7,271.7 L481.7,271.1 L485.7,270.5 L489.7,269.9 L493.7,269.2 L497.7,268.6 L501.7,267.9 L505.7,267.3 L509.7,266.6 L513.7,265.9 L517.7,265.2 L521.8,264.5 L525.8,263.8 L529.8,263.1 L533.8,262.3 L537.8,261.6 L541.8,260.8 L545.8,260.0 L549.8,259.3 L553.8,258.5 L557.8,257.7 L561.8,256.8 L565.8,256.0 L569.8,255.2 L573.8,254.3 L577.9,253.5 L581.9,252.6 L585.9,251.7 L589.9,250.8 L593.9,249.9 L597.9,249.0 L601.9,248.1 L605.9,247.1 L609.9,246.2 L613.9,245.2 L617.9,244.3 L621.9,243.3 L625.9,242.3 L629.9,241.3 L634.0,240.3 L638.0,239.2 L642.0,238.2 L646.0,237.1 L650.0,236.1 L654.0,235.0 L658.0,233.9 L662.0,232.8 L666.0,231.7 L670.0,230.6 L674.0,229.4 L678.0,228.3 L682.0,227.1 L686.0,226.0 L690.1,224.8 L694.1,223.6 L698.1,222.4 L702.1,221.2 L706.1,220.0 L710.1,218.7 L714.1,217.5 L718.1,216.2 L722.1,214.9 L726.1,213.7 L730.1,212.4 L734.1,211.1 L738.1,209.7 L742.1,208.4 L746.2,207.1 L750.2,205.7 L754.2,204.3 L758.2,202.9 L762.2,201.6 L766.2,200.1 L770.2,198.7 L774.2,197.3 L778.2,195.9 L782.2,194.4 L786.2,192.9 L790.2,191.5 L794.2,190.0 L798.2,188.5 L802.3,187.0 L806.3,185.4 L810.3,183.9 L814.3,182.3 L818.3,180.8 L822.3,179.2 L826.3,177.6" fill="none" stroke="#16A085" stroke-width="5.5" stroke-linejoin="round" stroke-linecap="butt"/><g style="font-family:'Liberation Sans', sans-serif;filter:grayscale(1)" font-size="23" fill="#4D4D4D" letter-spacing="2.5"><text x="91.8" y="818.5" text-anchor="end">5000</text><text x="91.8" y="573.3" text-anchor="end">10000</text><text x="91.8" y="328.0" text-anchor="end">15000</text><text x="91.8" y="82.8" text-anchor="end">20000</text><text x="151.1" y="847.3" text-anchor="middle">52</text><text x="422.0" y="847.3" text-anchor="middle">56</text><text x="692.9" y="847.3" text-anchor="middle">60</text><text x="963.8" y="847.3" text-anchor="middle">64</text></g><g><rect x="1188.7" y="320.9" width="46.5" height="231" fill="#FAFAFA"/><line x1="1193.2" x2="1230.2" y1="344.0" y2="344.0" stroke="#C0392B" stroke-width="5.5"/><circle cx="1211.7" cy="344.0" r="5.2" fill="#C0392B" stroke="#C0392B" fill-opacity="0.7" stroke-opacity="0.7" stroke-width="1.9"/><line x1="1193.2" x2="1230.2" y1="390.1" y2="390.1" stroke="#D35400" stroke-width="5.5"/><circle cx="1211.7" cy="390.1" r="5.2" fill="#D35400" stroke="#D35400" fill-opacity="0.7" stroke-opacity="0.7" stroke-width="1.9"/><line x1="1193.2" x2="1230.2" y1="436.2" y2="436.2" stroke="#F39C12" stroke-width="5.5"/><circle cx="1211.7" cy="436.2" r="5.2" fill="#F39C12" stroke="#F39C12" fill-opacity="0.7" stroke-opacity="0.7" stroke-width="1.9"/><line x1="1193.2" x2="1230.2" y1="482.3" y2="482.3" stroke="#27AE60" stroke-width="5.5"/><circle cx="1211.7" cy="482.3" r="5.2" fill="#27AE60" stroke="#27AE60" fill-opacity="0.7" stroke-opacity="0.7" stroke-width="1.9"/><line x1="1193.2" x2="1230.2" y1="528.4" y2="528.4" stroke="#16A085" stroke-width="5.5"/><circle cx="1211.7" cy="528.4" r="5.2" fill="#16A085" stroke="#16A085" fill-opacity="0.7" stroke-opacity="0.7" stroke-width="1.9"/></g><g style="font-family:'Liberation Sans', sans-serif;filter:grayscale(1)"><text x="1190" y="303.7" font-size="30" fill="#000000" letter-spacing="2.4">cut</text><text x="1249.5" y="352.3" font-size="23.5" fill="#000000" letter-spacing="1.2">Fair</text><text x="1249.5" y="398.4" font-size="23.5" fill="#000000" letter-spacing="1.2">Good</text><text x="1249.5" y="444.5" font-size="23.5" fill="#000000" letter-spacing="1.2">Very Good</text><text x="1249.5" y="490.6" font-size="23.5" fill="#000000" letter-spacing="1.2">Premium</text><text x="1249.5" y="536.7" font-size="23.5" fill="#000000" letter-spacing="1.2">Ideal</text></g></svg></body></html>
